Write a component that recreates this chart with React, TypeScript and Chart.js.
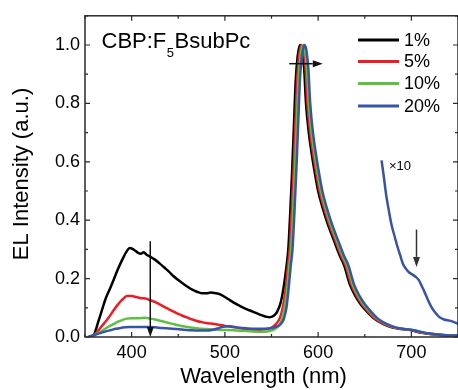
import React, { useEffect, useRef } from 'react';
import { Chart, registerables } from 'chart.js';

Chart.register(...registerables);

const FONT = "'Liberation Sans', Arial, Helvetica, sans-serif";

const seriesLabels = ['1%', '5%', '10%', '20%'];
const seriesColors = ['#000000', '#ee1c25', '#5fbf3f', '#3953a6'];

const wl1 = [356, 360, 364, 368, 372, 376, 380, 385, 390, 395, 398, 401, 404, 407, 410, 413, 416, 420, 425, 430, 435, 440, 445, 450, 455, 460, 465, 470, 475, 480, 485, 490, 495, 500, 505, 510, 515, 520, 525, 530, 535, 540, 545, 548, 552, 556, 560, 563, 566, 568, 570, 572, 574, 576, 578, 580, 581, 583, 585, 587, 590, 593, 596, 600, 605, 610, 617, 623, 628, 634, 640, 645, 650, 660, 670, 680, 690, 700, 710, 720, 735, 750];
const el1 = [0, 0.01, 0.05, 0.09, 0.13, 0.16, 0.19, 0.23, 0.265, 0.295, 0.305, 0.302, 0.295, 0.288, 0.285, 0.29, 0.282, 0.275, 0.265, 0.252, 0.238, 0.224, 0.208, 0.195, 0.183, 0.172, 0.162, 0.155, 0.15, 0.15, 0.152, 0.15, 0.146, 0.137, 0.127, 0.117, 0.108, 0.1, 0.093, 0.087, 0.08, 0.074, 0.069, 0.068, 0.072, 0.086, 0.12, 0.17, 0.24, 0.3, 0.42, 0.56, 0.72, 0.88, 0.96, 0.995, 1.0, 0.98, 0.92, 0.8, 0.7, 0.63, 0.57, 0.5, 0.44, 0.39, 0.33, 0.28, 0.245, 0.18, 0.14, 0.115, 0.095, 0.063, 0.044, 0.032, 0.027, 0.023, 0.015, 0.01, 0.006, 0.004];

const wl5 = [356, 360, 365, 370, 375, 380, 385, 390, 395, 400, 405, 410, 415, 420, 425, 430, 435, 440, 445, 450, 455, 460, 465, 470, 475, 480, 485, 490, 495, 500, 505, 510, 515, 520, 525, 530, 535, 540, 545, 550, 555, 559, 562, 565, 567.5, 569.5, 571.5, 573.5, 575.5, 577.5, 579.5, 581.5, 582.5, 584.5, 586.5, 588.5, 591.5, 594.5, 597.5, 601.5, 606.5, 611.5, 618.5, 624.5, 629.5, 635.5, 641.5, 646.5, 651.5, 661, 671, 681, 691, 701, 711, 721, 735, 750];
const el5 = [0, 0.008, 0.025, 0.045, 0.065, 0.088, 0.11, 0.128, 0.14, 0.14, 0.137, 0.133, 0.132, 0.126, 0.12, 0.112, 0.103, 0.095, 0.087, 0.079, 0.072, 0.066, 0.06, 0.055, 0.051, 0.048, 0.046, 0.044, 0.041, 0.038, 0.036, 0.034, 0.031, 0.028, 0.026, 0.025, 0.024, 0.025, 0.027, 0.032, 0.045, 0.065, 0.1, 0.16, 0.24, 0.3, 0.42, 0.56, 0.72, 0.88, 0.96, 0.995, 1.0, 0.98, 0.92, 0.8, 0.7, 0.63, 0.57, 0.5, 0.44, 0.39, 0.33, 0.28, 0.245, 0.18, 0.14, 0.115, 0.095, 0.063, 0.044, 0.032, 0.027, 0.023, 0.015, 0.01, 0.006, 0.004];

const wl10 = [355, 360, 365, 370, 375, 380, 385, 390, 395, 400, 405, 410, 415, 420, 425, 430, 435, 440, 445, 450, 455, 460, 465, 470, 475, 480, 490, 500, 510, 520, 530, 540, 545, 550, 555, 559, 562, 565, 567, 569, 571, 573, 575, 577, 579, 581, 583, 584, 586, 588, 590, 593, 596, 599, 603, 608, 613, 620, 626, 631, 637, 643, 648, 653, 663, 673, 683, 693, 703, 713, 723, 737, 750];
const el10 = [0, 0.006, 0.015, 0.025, 0.035, 0.043, 0.052, 0.058, 0.063, 0.064, 0.064, 0.065, 0.066, 0.063, 0.06, 0.056, 0.052, 0.048, 0.044, 0.04, 0.037, 0.034, 0.032, 0.03, 0.028, 0.027, 0.025, 0.024, 0.023, 0.021, 0.019, 0.018, 0.019, 0.022, 0.03, 0.045, 0.07, 0.12, 0.17, 0.24, 0.3, 0.42, 0.56, 0.72, 0.88, 0.96, 0.995, 1.0, 0.98, 0.92, 0.8, 0.7, 0.63, 0.57, 0.5, 0.44, 0.39, 0.33, 0.28, 0.245, 0.18, 0.14, 0.115, 0.095, 0.063, 0.044, 0.032, 0.027, 0.023, 0.015, 0.01, 0.006, 0.004];

const wl20 = [353, 358, 363, 368, 373, 378, 383, 388, 393, 398, 405, 412, 418, 425, 432, 440, 448, 456, 464, 472, 480, 486, 492, 497, 502, 507, 512, 518, 525, 532, 540, 546, 551, 556, 560, 563, 566, 568.5, 570.5, 572.5, 574.5, 576.5, 578.5, 580.5, 582.5, 584.5, 585.5, 587.5, 589.5, 591.5, 594.5, 597.5, 600.5, 604.5, 609.5, 614.5, 621.5, 627.5, 632.5, 638.5, 644.5, 649.5, 654.5, 664, 674, 684, 694, 704, 714, 724, 738, 750];
const el20 = [0, 0.005, 0.01, 0.015, 0.02, 0.024, 0.028, 0.031, 0.033, 0.034, 0.034, 0.034, 0.034, 0.033, 0.031, 0.029, 0.027, 0.025, 0.023, 0.022, 0.022, 0.024, 0.029, 0.034, 0.037, 0.036, 0.033, 0.031, 0.029, 0.028, 0.028, 0.029, 0.031, 0.036, 0.045, 0.06, 0.1, 0.17, 0.24, 0.3, 0.42, 0.56, 0.72, 0.88, 0.96, 0.995, 1.0, 0.98, 0.92, 0.8, 0.7, 0.63, 0.57, 0.5, 0.44, 0.39, 0.33, 0.28, 0.245, 0.18, 0.14, 0.115, 0.095, 0.063, 0.044, 0.032, 0.027, 0.022, 0.015, 0.01, 0.006, 0.005];

// 20% tail magnified x10
const wl20x10 = [668, 670, 673, 676, 679, 682, 685, 688, 691, 695, 698, 702, 705, 708, 711, 714, 718, 722, 726, 730, 735, 741, 745, 750];
const el20x10 = [0.605, 0.56, 0.486, 0.43, 0.38, 0.345, 0.31, 0.28, 0.25, 0.23, 0.22, 0.212, 0.205, 0.195, 0.175, 0.155, 0.125, 0.1, 0.082, 0.068, 0.06, 0.056, 0.052, 0.045];

const xMajorTicks = [400, 500, 600, 700];
const xMinorTicks = [350, 450, 550, 650, 750];
const yMajorTicks = [0, 0.2, 0.4, 0.6, 0.8, 1.0];
const yMinorTicks = [0.1, 0.3, 0.5, 0.7, 0.9, 1.1];

// arrows: [x1, y1, x2, y2] in data units, head at (x2, y2)
const arrowDown400 = [420, 0.328, 420, 0.0];
const arrowRightPeak = [569, 0.936, 605, 0.936];
const arrowDownTail = [705.5, 0.368, 705.5, 0.24];
const x10LabelPos = [676, 0.584];

const toPts = (xs: number[], ys: number[]) => xs.map((v, i) => ({ x: v, y: ys[i] }));

function drawArrow(ctx: CanvasRenderingContext2D, x1: number, y1: number, x2: number, y2: number, color: string) {
  const ang = Math.atan2(y2 - y1, x2 - x1);
  const hl = 10, hw = 3.5;
  const bx = x2 - hl * Math.cos(ang), by = y2 - hl * Math.sin(ang);
  ctx.strokeStyle = color; ctx.fillStyle = color; ctx.lineWidth = 1.5;
  ctx.beginPath(); ctx.moveTo(x1, y1); ctx.lineTo(bx, by); ctx.stroke();
  ctx.beginPath();
  ctx.moveTo(x2, y2);
  ctx.lineTo(bx + hw * Math.sin(ang), by - hw * Math.cos(ang));
  ctx.lineTo(bx - hw * Math.sin(ang), by + hw * Math.cos(ang));
  ctx.closePath(); ctx.fill();
}

const decorPlugin = {
  id: 'decor',
  afterDraw(chart: any) {
    const { ctx, chartArea: a, scales } = chart;
    const x = scales.x, y = scales.y;
    ctx.save();
    ctx.strokeStyle = '#2a2a2a';
    ctx.lineWidth = 1.5;
    ctx.strokeRect(a.left, a.top, a.right - a.left, a.bottom - a.top);
    const tickX = (v: number, len: number) => {
      const px = x.getPixelForValue(v);
      ctx.beginPath();
      ctx.moveTo(px, a.bottom); ctx.lineTo(px, a.bottom - len);
      ctx.moveTo(px, a.top); ctx.lineTo(px, a.top + len);
      ctx.stroke();
    };
    const tickY = (v: number, len: number) => {
      const py = y.getPixelForValue(v);
      ctx.beginPath();
      ctx.moveTo(a.left, py); ctx.lineTo(a.left + len, py);
      ctx.moveTo(a.right, py); ctx.lineTo(a.right - len, py);
      ctx.stroke();
    };
    ctx.lineWidth = 1.2;
    xMajorTicks.forEach(v => tickX(v, 5));
    xMinorTicks.forEach(v => tickX(v, 3));
    yMajorTicks.forEach(v => tickY(v, 5));
    yMinorTicks.forEach(v => tickY(v, 3));

    ctx.fillStyle = '#000';
    ctx.font = `22px ${FONT}`;
    ctx.textAlign = 'center';
    ctx.textBaseline = 'middle';
    ctx.fillText('Wavelength (nm)', 263.5, 377);
    ctx.save();
    ctx.translate(22, 174);
    ctx.rotate(-Math.PI / 2);
    ctx.fillText('EL Intensity (a.u.)', 0, 0);
    ctx.restore();

    ctx.textAlign = 'left';
    ctx.textBaseline = 'alphabetic';
    ctx.font = `22px ${FONT}`;
    let tx = 101.5;
    ctx.fillText('CBP:F', tx, 48);
    tx += ctx.measureText('CBP:F').width + 0.5;
    ctx.font = `13px ${FONT}`;
    ctx.fillText('5', tx, 57);
    tx += ctx.measureText('5').width + 0.5;
    ctx.font = `22px ${FONT}`;
    ctx.fillText('BsubPc', tx, 48);

    const rows = [40, 61.5, 83.5, 106];
    ctx.font = `18px ${FONT}`;
    ctx.textBaseline = 'middle';
    seriesLabels.forEach((lab, i) => {
      ctx.strokeStyle = seriesColors[i];
      ctx.lineWidth = 3;
      ctx.beginPath(); ctx.moveTo(358, rows[i]); ctx.lineTo(399, rows[i]); ctx.stroke();
      ctx.fillStyle = '#000';
      ctx.fillText(lab, 404, rows[i] + 1);
    });

    ctx.font = `13px ${FONT}`;
    ctx.fillText('×10', x.getPixelForValue(x10LabelPos[0]), y.getPixelForValue(x10LabelPos[1]));

    const P = (arr: number[]) => [x.getPixelForValue(arr[0]), y.getPixelForValue(arr[1]), x.getPixelForValue(arr[2]), y.getPixelForValue(arr[3])];
    const a1 = P(arrowDown400); drawArrow(ctx, a1[0], a1[1], a1[2], a1[3], '#111');
    const a2 = P(arrowRightPeak); drawArrow(ctx, a2[0], a2[1], a2[2], a2[3], '#111');
    const a3 = P(arrowDownTail); drawArrow(ctx, a3[0], a3[1], a3[2], a3[3], '#333');
    ctx.restore();
  },
};

export default function App() {
  const ref = useRef<HTMLCanvasElement | null>(null);
  useEffect(() => {
    document.body.style.margin = '0';
    const canvas = ref.current;
    if (!canvas) return;
    const mk = (label: string, xs: number[], ys: number[], color: string, order: number) => ({
      label,
      data: toPts(xs, ys),
      borderColor: color,
      backgroundColor: color,
      borderWidth: 2.5,
      pointRadius: 0,
      fill: false,
      order,
      cubicInterpolationMode: 'monotone' as const,
    });
    const chart = new Chart(canvas, {
      type: 'line',
      data: {
        datasets: [
          mk(seriesLabels[0], wl1, el1, seriesColors[0], 3),
          mk(seriesLabels[1], wl5, el5, seriesColors[1], 2),
          mk(seriesLabels[2], wl10, el10, seriesColors[2], 1),
          mk(seriesLabels[3], wl20, el20, seriesColors[3], 0),
          mk('20% ×10', wl20x10, el20x10, seriesColors[3], 0),
        ],
      },
      options: {
        animation: false,
        responsive: false,
        devicePixelRatio: 1,
        layout: { padding: { top: 11, right: 0, left: 0, bottom: 0 } },
        plugins: { legend: { display: false }, tooltip: { enabled: false }, title: { display: false } },
        scales: {
          x: {
            type: 'linear',
            min: 350,
            max: 750,
            grid: { display: false, drawTicks: false },
            border: { display: false },
            afterBuildTicks: (s: any) => { s.ticks = xMajorTicks.map(v => ({ value: v })); },
            afterFit: (s: any) => { s.height = 53; },
            ticks: { padding: 5, color: '#000', font: { family: FONT, size: 18 }, maxRotation: 0, autoSkip: false, callback: (v: any) => String(v) },
          },
          y: {
            type: 'linear',
            min: 0,
            max: 1.1,
            grid: { display: false, drawTicks: false },
            border: { display: false },
            afterBuildTicks: (s: any) => { s.ticks = yMajorTicks.map(v => ({ value: v })); },
            afterFit: (s: any) => { s.width = 85; },
            ticks: { padding: 5, color: '#000', font: { family: FONT, size: 18 }, autoSkip: false, callback: (v: any) => Number(v).toFixed(1) },
          },
        },
      },
      plugins: [decorPlugin],
    });
    return () => chart.destroy();
  }, []);
  return (
    <div style={{ width: 458, height: 390, overflow: 'hidden', background: '#fff' }}>
      <canvas ref={ref} width={458} height={390} style={{ display: 'block', width: 458, height: 390 }} />
    </div>
  );
}
